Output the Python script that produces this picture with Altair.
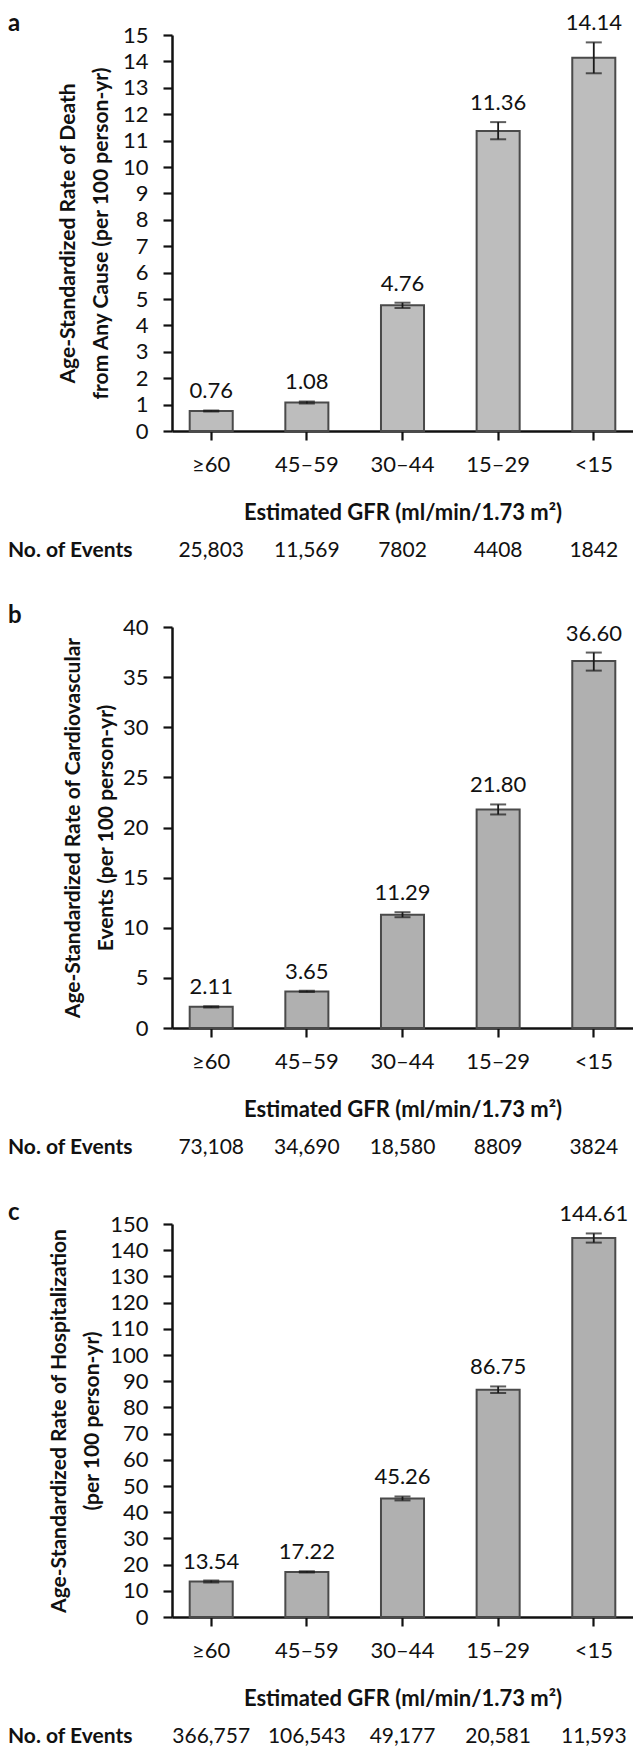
import altair as alt
import pandas as pd

cats = ["≥60", "45–59", "30–44", "15–29", "<15"]

death = [0.76, 1.08, 4.76, 11.36, 14.14]
death_lo = [0.74, 1.04, 4.66, 11.05, 13.55]
death_hi = [0.78, 1.12, 4.86, 11.70, 14.72]
death_events = ["25,803", "11,569", "7802", "4408", "1842"]

cv = [2.11, 3.65, 11.29, 21.80, 36.60]
cv_lo = [2.05, 3.58, 11.05, 21.30, 35.65]
cv_hi = [2.17, 3.72, 11.55, 22.30, 37.45]
cv_events = ["73,108", "34,690", "18,580", "8809", "3824"]

hosp = [13.54, 17.22, 45.26, 86.75, 144.61]
hosp_lo = [13.2, 17.0, 44.5, 85.5, 142.9]
hosp_hi = [13.9, 17.5, 46.0, 88.0, 146.4]
hosp_events = ["366,757", "106,543", "49,177", "20,581", "11,593"]

x_title = "Estimated GFR (ml/min/1.73 m²)"
FONT = "Lato"
INK = "#111111"


def panel(letter, vals, lo, hi, events, ymax, step, H, fill, title_lines, title_x):
    df = pd.DataFrame({"cat": cats, "val": vals, "lo": lo, "hi": hi, "ev": events})
    xscale = alt.Scale(domain=cats, paddingInner=0.55, paddingOuter=0.185)
    xaxis = alt.Axis(title=x_title, labelAngle=0, labelPadding=14.5, titlePadding=27,
                     titleFontSize=22, labelFontSize=22)
    yscale = alt.Scale(domain=[0, ymax], nice=False, zero=True)
    yaxis = alt.Axis(title=title_lines, values=list(range(0, ymax + 1, step)),
                     labelPadding=15, titleAngle=270, titleX=title_x, titleY=H / 2,
                     titleBaseline="middle", titleAlign="center", titleLineHeight=33,
                     titleFontSize=21)

    def X():
        return alt.X("cat:N", sort=cats, scale=xscale, axis=xaxis)

    def Y(f):
        return alt.Y(f + ":Q", scale=yscale, axis=yaxis)

    base = alt.Chart(df)
    bars = base.mark_bar(fill=fill, stroke="#4a4a4a", strokeWidth=2).encode(x=X(), y=Y("val"))
    rule = base.mark_rule(color="#1a1a1a", strokeWidth=1.8).encode(x=X(), y=Y("lo"), y2=alt.Y2("hi"))
    cap_lo = base.mark_tick(size=16, thickness=2, color="#1a1a1a").encode(x=X(), y=Y("lo"))
    cap_hi = base.mark_tick(size=16, thickness=2, color="#1a1a1a").encode(x=X(), y=Y("hi"))
    vlab = base.mark_text(baseline="alphabetic", dy=-12, fontSize=22, font=FONT, color=INK).encode(
        x=X(), y=Y("hi"), text=alt.Text("val:Q", format=".2f"))
    evs = base.mark_text(baseline="middle", fontSize=21, font=FONT, color=INK).encode(
        x=X(), y=alt.value(H + 120), text="ev:N")
    evlab = alt.Chart(pd.DataFrame({"t": ["No. of Events"]})).mark_text(
        align="left", baseline="middle", fontSize=21, fontWeight="bold", font=FONT, color=INK
    ).encode(x=alt.value(-164), y=alt.value(H + 120), text="t:N")
    let = alt.Chart(pd.DataFrame({"t": [letter]})).mark_text(
        align="left", baseline="alphabetic", fontSize=24, fontWeight="bold", font=FONT, color=INK
    ).encode(x=alt.value(-164), y=alt.value(-4), text="t:N")
    return alt.layer(bars, rule, cap_lo, cap_hi, vlab, evs, evlab, let).properties(width=461, height=H)


pa = panel("a", death, death_lo, death_hi, death_events, 15, 1, 396, "#bdbdbd",
           ["Age-Standardized Rate of Death", "from Any Cause (per 100 person-yr)"], -104)
pb = panel("b", cv, cv_lo, cv_hi, cv_events, 40, 5, 401, "#b0b0b0",
           ["Age-Standardized Rate of Cardiovascular", "Events (per 100 person-yr)"], -99)
pc = panel("c", hosp, hosp_lo, hosp_hi, hosp_events, 150, 10, 393, "#b0b0b0",
           ["Age-Standardized Rate of Hospitalization", "(per 100 person-yr)"], -113)

chart = alt.vconcat(pa, pb, pc, spacing=196, bounds="flush").properties(
    padding={"left": 0, "top": 4, "right": 0, "bottom": 0}
).configure_view(stroke=None).configure_axis(
    grid=False, domainColor=INK, domainWidth=2.5, tickColor=INK, tickWidth=2.2, tickSize=9,
    labelFont=FONT, labelColor=INK, titleFont=FONT, titleColor=INK, titleFontWeight="bold"
).configure_axisY(labelFontSize=22)

chart.save("out.html", embed_options={"renderer": "svg", "actions": False})
